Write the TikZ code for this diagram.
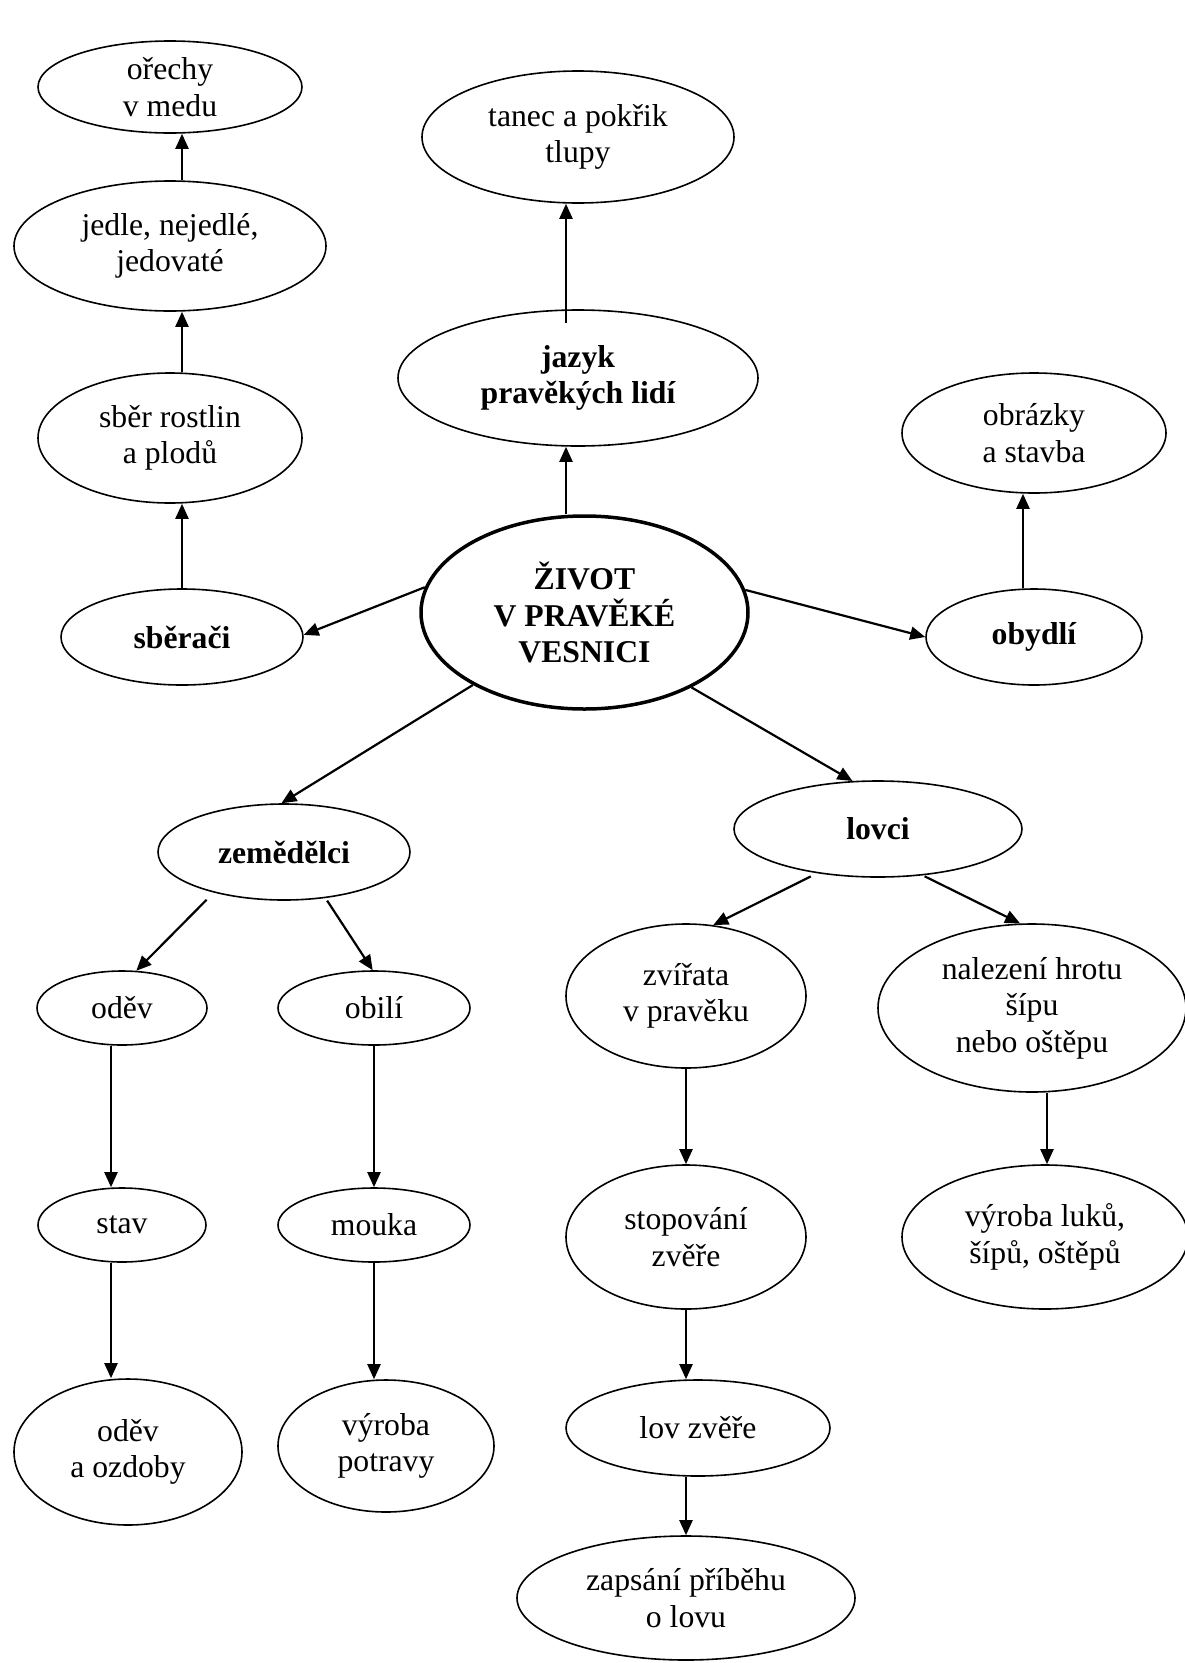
\documentclass[tikz,border=0pt]{standalone}
\usepackage{fontspec}
\setmainfont{Liberation Serif}
\usetikzlibrary{arrows.meta,shapes.geometric,calc}
\begin{document}
\begin{tikzpicture}[x=1pt,y=-1pt,
  bub/.style={draw, ellipse, line width=1.6pt, inner sep=-6pt, align=center,
    font=\fontsize{31.7}{36.5}\selectfont},
  bb/.style={bub, font=\fontsize{31.7}{36.5}\selectfont\bfseries},
  sz/.style 2 args={minimum width=#1, minimum height=#2},
  arr/.style={line width=2.2pt, -{Triangle[length=15pt,width=13pt]}}]
\fill[white] (0,0) rectangle (1184,1663);
\useasboundingbox (0,0) rectangle (1184,1663);
% nodes
\node[bub, sz={264pt}{92pt}]  (ore) at (170,87)  {ořechy\\v medu};
\node[bub, sz={312pt}{130pt}] (jed) at (170,246) {jedle, nejedlé,\\jedovaté};
\node[bub, sz={264pt}{130pt}] (sbr) at (170,438) {sběr rostlin\\a plodů};
\node[bb,  sz={242pt}{96pt}]  (sbe) at (182,637) {sběrači};
\node[bub, sz={312pt}{132pt}] (tan) at (578,137) {tanec a pokřik\\tlupy};
\node[bb,  sz={360pt}{136pt}] (jaz) at (578,378) {jazyk\\pravěkých lidí};
\node[bb,  sz={327pt}{193pt}, line width=3.5pt] (main) at (584.5,612.5) {ŽIVOT\\V PRAVĚKÉ\\VESNICI};
\node[bub, sz={264pt}{120pt}] (obr) at (1034,433) {obrázky\\a stavba};
\node[bb,  sz={216pt}{96pt}]  (oby) at (1034,637) {obydlí};
\node[bb,  sz={252pt}{96pt}]  (zem) at (284,852) {zemědělci};
\node[bb,  sz={288pt}{96pt}]  (lov) at (878,829) {lovci};
\node[bub, sz={170pt}{74pt}]  (odv) at (122,1008) {oděv};
\node[bub, sz={192pt}{74pt}]  (obi) at (374,1008) {obilí};
\node[bub, sz={240pt}{144pt}] (zvi) at (686,996) {zvířata\\v pravěku};
\node[bub, sz={308pt}{168pt}] (nal) at (1032,1008) {nalezení hrotu\\šípu\\nebo oštěpu};
\node[bub, sz={168pt}{74pt}]  (sta) at (122,1225) {stav};
\node[bub, sz={192pt}{74pt}]  (mou) at (374,1225) {mouka};
\node[bub, sz={240pt}{144pt}] (sto) at (686,1237) {stopování\\zvěře};
\node[bub, sz={286pt}{144pt}] (vyl) at (1045,1237) {výroba luků,\\šípů, oštěpů};
\node[bub, sz={228pt}{146pt}] (ozd) at (128,1452) {oděv\\a ozdoby};
\node[bub, sz={216pt}{132pt}] (pot) at (386,1446) {výroba\\potravy};
\node[bub, sz={264pt}{96pt}]  (lzv) at (698,1428) {lov zvěře};
\node[bub, sz={338pt}{124pt}] (zap) at (686,1598) {zapsání příběhu\\o lovu};
% columns
\coordinate (cA) at (182,0);
\coordinate (cB) at (566,0);
\coordinate (cC) at (1023,0);
\coordinate (cD) at (111,0);
\coordinate (cE) at (374,0);
\coordinate (cF) at (686,0);
\coordinate (cG) at (1047,0);
% connectors
\draw[arr] (jed.north -| cA) -- (ore.south -| cA);
\draw[arr] (sbr.north -| cA) -- (jed.south -| cA);
\draw[arr] (sbe.north -| cA) -- (sbr.south -| cA);
\draw[arr] (main.171.4) -- (sbe.1.4);
\draw[arr] (main.north -| cB) -- (jaz.south -| cB);
\draw[arr] ($(jaz.north -| cB)+(0,14)$) -- (tan.south -| cB);
\draw[arr] (main.8.5) -- (oby.west);
\draw[arr] (oby.north -| cC) -- (obr.south -| cC);
\draw[arr] (main.-147.8) -- (zem.93.6);
\draw[arr] (main.-35.3) -- (lov.118);
\draw[arr, shorten <=10pt] (zem.-150) -- (odv.69);
\draw[arr, shorten <=3pt] (zem.-48.4) -- (obi.92);
\draw[arr] (odv.south -| cD) -- (sta.north -| cD);
\draw[arr] (sta.south -| cD) -- (ozd.north -| cD);
\draw[arr] (obi.south -| cE) -- (mou.north -| cE);
\draw[arr] (mou.south -| cE) -- (pot.north -| cE);
\draw[arr, shorten <=7pt] (lov.-144.9) -- (zvi.69.9);
\draw[arr, shorten <=2pt] (lov.-46.5) -- (nal.98.9);
\draw[arr] (zvi.south -| cF) -- (sto.north -| cF);
\draw[arr] (sto.south -| cF) -- (lzv.north -| cF);
\draw[arr] (lzv.south -| cF) -- (zap.north -| cF);
\draw[arr] (nal.south -| cG) -- (vyl.north -| cG);
\end{tikzpicture}
\end{document}
